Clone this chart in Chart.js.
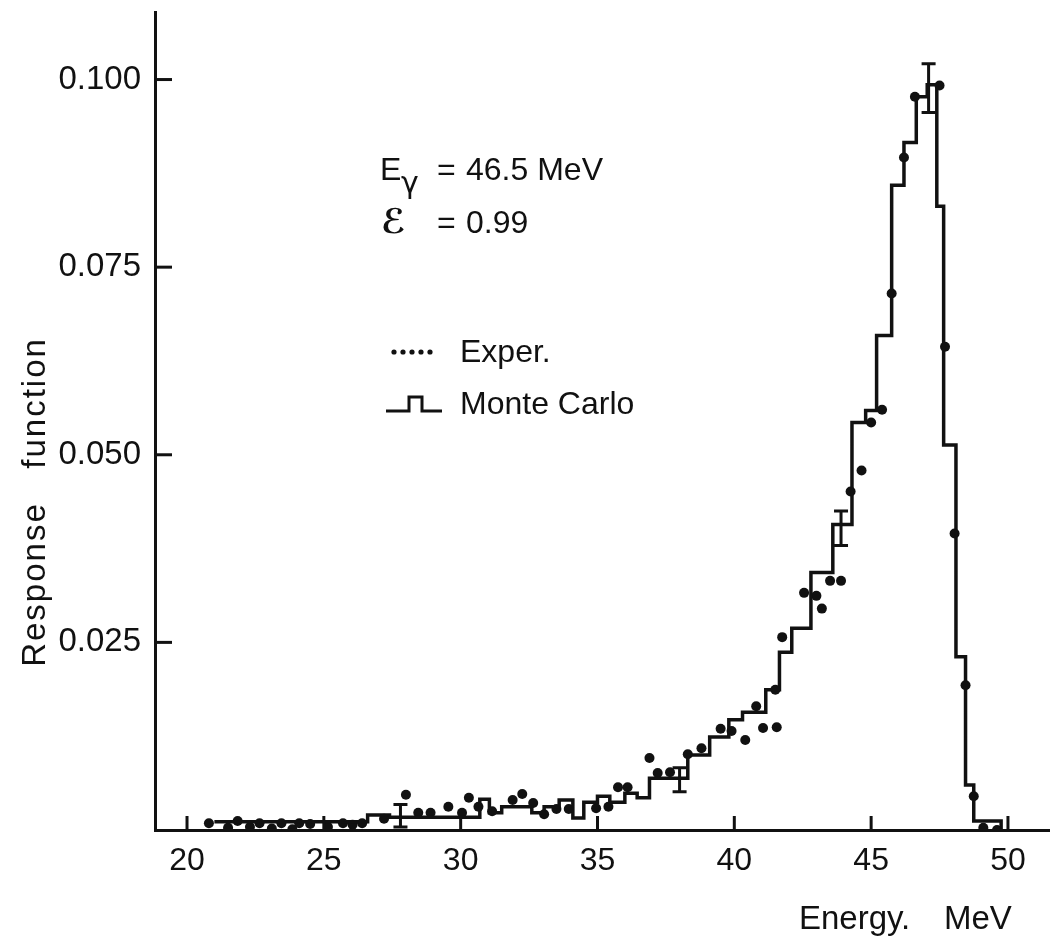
<!DOCTYPE html>
<html>
<head>
<meta charset="utf-8">
<script src="https://cdn.jsdelivr.net/npm/chart.js@4.4.0/dist/chart.umd.min.js"></script>
<style>
  html, body { margin: 0; padding: 0; background: #fff; }
  #wrap { width: 1054px; height: 949px; }
</style>
</head>
<body>
<div id="wrap"><canvas id="responseChart" width="1054" height="949"></canvas></div>
<script>
// Monte Carlo histogram: bin edges in MeV, one value per bin
const mcEdges = [21.0, 26.6, 27.4, 30.7, 31.05, 31.5, 32.6, 33.05, 33.6, 34.1, 34.5, 35.0, 35.45,
  36.0, 36.45, 36.9, 38.3, 39.1, 39.8, 40.3, 41.15, 41.65, 42.1, 42.8, 43.6, 44.3, 44.8, 45.2,
  45.75, 46.2, 46.65, 47.05, 47.4, 47.65, 48.1, 48.45, 48.75, 49.75];
const mcValues = [0.0011, 0.0020, 0.0017, 0.0041, 0.0023, 0.0031, 0.0023, 0.0031, 0.0040, 0.0016,
  0.0037, 0.0045, 0.0037, 0.0049, 0.0043, 0.0069, 0.0100, 0.0124, 0.0147, 0.0157, 0.0187, 0.0237,
  0.0269, 0.0343, 0.0407, 0.0543, 0.0559, 0.0659, 0.0859, 0.0916, 0.0977, 0.0993, 0.0831, 0.0513,
  0.0231, 0.0060, 0.0012];

// measured response
const expEnergy = [20.8, 21.5, 21.85, 22.3, 22.65, 23.1, 23.45, 23.85, 24.1, 24.5, 25.15, 25.7, 26.05,
  26.4, 27.2, 28.0, 28.45, 28.9, 29.55, 30.05, 30.3, 30.65, 31.15, 31.9, 32.25, 32.65, 33.05, 33.5,
  33.95, 34.95, 35.4, 35.75, 36.1, 36.9, 37.2, 37.65, 38.3, 38.8, 39.5, 39.9, 40.4, 40.8, 41.05,
  41.5, 41.55, 41.75, 42.55, 43.0, 43.2, 43.5, 43.9, 44.25, 44.65, 45.0, 45.4, 45.75, 46.2, 46.6,
  47.5, 47.7, 48.05, 48.45, 48.75, 49.1, 49.6];
const expValue = [0.0009, 0.0003, 0.0012, 0.0004, 0.0009, 0.0002, 0.0009, 0.0001, 0.0009, 0.0008,
  0.0004, 0.0009, 0.0007, 0.0009, 0.0015, 0.0047, 0.0023, 0.0023, 0.0031, 0.0023, 0.0043, 0.0031,
  0.0025, 0.0040, 0.0048, 0.0036, 0.0021, 0.0028, 0.0028, 0.0029, 0.0031, 0.0057, 0.0057, 0.0096,
  0.0076, 0.0077, 0.0101, 0.0109, 0.0135, 0.0132, 0.0120, 0.0165, 0.0136, 0.0187, 0.0137, 0.0257,
  0.0316, 0.0312, 0.0295, 0.0332, 0.0332, 0.0451, 0.0479, 0.0543, 0.0560, 0.0715, 0.0896, 0.0977,
  0.0992, 0.0644, 0.0395, 0.0193, 0.0045, 0.0003, 0.0000];

// error bars on a few measured points
const errEnergy = [27.8, 38.0, 43.9, 47.1];
const errLow = [0.0004, 0.0051, 0.0379, 0.0956];
const errHigh = [0.0034, 0.0083, 0.0425, 0.1021];

const xTicks = [20, 25, 30, 35, 40, 45, 50];
const yTicks = [0.025, 0.050, 0.075, 0.100];
const yTickLabels = ['0.025', '0.050', '0.075', '0.100'];

const FONT = '"Liberation Sans", Arial, sans-serif';
const INK = '#111';

// histogram as a stepped line: each bin value starts at its left edge
const mcPoints = mcValues.map((v, i) => ({ x: mcEdges[i], y: v }));
mcPoints.push({ x: mcEdges[mcEdges.length - 1], y: 0 });
const expPoints = expEnergy.map((e, i) => ({ x: e, y: expValue[i] }));

const decorations = {
  id: 'decorations',
  afterDatasetsDraw(chart) {
    const { ctx, chartArea: area, scales: { x, y } } = chart;
    ctx.save();
    ctx.strokeStyle = INK;
    ctx.lineCap = 'butt';
    ctx.lineWidth = 3;
    // ticks point into the plot
    xTicks.forEach(v => {
      const px = x.getPixelForValue(v);
      ctx.beginPath();
      ctx.moveTo(px, area.bottom);
      ctx.lineTo(px, area.bottom - 14);
      ctx.stroke();
    });
    yTicks.forEach(v => {
      const py = y.getPixelForValue(v);
      ctx.beginPath();
      ctx.moveTo(area.left, py);
      ctx.lineTo(area.left + 17, py);
      ctx.stroke();
    });
    // error bars
    errEnergy.forEach((e, i) => {
      const px = x.getPixelForValue(e);
      const lo = y.getPixelForValue(errLow[i]);
      const hi = y.getPixelForValue(errHigh[i]);
      ctx.beginPath();
      ctx.moveTo(px, lo); ctx.lineTo(px, hi);
      ctx.moveTo(px - 7, lo); ctx.lineTo(px + 7, lo);
      ctx.moveTo(px - 7, hi); ctx.lineTo(px + 7, hi);
      ctx.stroke();
    });
    ctx.restore();
  },
  afterDraw(chart) {
    const { ctx } = chart;
    ctx.save();
    ctx.fillStyle = INK;
    ctx.strokeStyle = INK;
    ctx.textBaseline = 'alphabetic';
    ctx.font = '32px ' + FONT;

    // beam energy and efficiency
    ctx.fillText('E', 380, 180);
    ctx.font = '30px "DejaVu Sans", ' + FONT;
    ctx.fillText('\u03b3', 401, 193);
    ctx.font = '32px ' + FONT;
    ctx.fillText('=', 437, 180);
    ctx.fillText('46.5 MeV', 466, 180);
    ctx.font = 'bold 34px "DejaVu Sans", sans-serif';
    ctx.fillText('\u2130', 381, 233);
    ctx.font = '32px ' + FONT;
    ctx.fillText('=', 437, 233);
    ctx.fillText('0.99', 466, 233);

    // legend
    for (let k = 0; k < 5; k++) {
      ctx.beginPath();
      ctx.arc(394 + k * 9, 352, 2.6, 0, Math.PI * 2);
      ctx.fill();
    }
    ctx.fillText('Exper.', 460, 362);
    ctx.lineWidth = 3;
    ctx.beginPath();
    ctx.moveTo(386, 411);
    ctx.lineTo(409, 411);
    ctx.lineTo(409, 397);
    ctx.lineTo(422, 397);
    ctx.lineTo(422, 411);
    ctx.lineTo(442, 411);
    ctx.stroke();
    ctx.fillText('Monte Carlo', 460, 414);

    // axis titles
    ctx.font = '33px ' + FONT;
    ctx.fillText('Energy.', 799, 929);
    ctx.fillText('MeV', 944, 929);
    ctx.translate(45, 502);
    ctx.rotate(-Math.PI / 2);
    ctx.textAlign = 'center';
    ctx.letterSpacing = '2px';
    ctx.fillText('Response   function', 0, 0);
    ctx.restore();
  }
};

new Chart(document.getElementById('responseChart').getContext('2d'), {
  type: 'scatter',
  data: {
    datasets: [{
      label: 'Monte Carlo',
      type: 'line',
      data: mcPoints,
      stepped: 'before',
      borderColor: INK,
      borderWidth: 3.5,
      pointRadius: 0,
      fill: false
    }, {
      label: 'Exper.',
      data: expPoints,
      pointRadius: 5,
      pointBackgroundColor: INK,
      pointBorderWidth: 0
    }]
  },
  options: {
    responsive: false,
    animation: false,
    devicePixelRatio: 1,
    layout: { padding: { top: 12, right: 4, left: 0, bottom: 0 } },
    plugins: { legend: { display: false }, tooltip: { enabled: false } },
    scales: {
      x: {
        type: 'linear',
        min: 18.83,
        max: 51.5,
        grid: { display: false, drawTicks: false },
        border: { display: true, color: INK, width: 3 },
        afterBuildTicks: s => { s.ticks = xTicks.map(v => ({ value: v })); },
        afterFit: s => { s.height = 119; s.paddingLeft = 0; s.paddingRight = 0; },
        ticks: { color: INK, padding: 12, font: { family: FONT, size: 32 }, maxRotation: 0 }
      },
      y: {
        min: 0,
        max: 0.109,
        grid: { display: false, drawTicks: false },
        border: { display: true, color: INK, width: 3 },
        afterBuildTicks: s => { s.ticks = yTicks.map(v => ({ value: v })); },
        afterFit: s => { s.width = 155; s.paddingTop = 0; s.paddingBottom = 0; },
        ticks: {
          color: INK,
          padding: 14,
          font: { family: FONT, size: 33 },
          callback: (v, i) => yTickLabels[i]
        }
      }
    }
  },
  plugins: [decorations]
});
</script>
</body>
</html>
